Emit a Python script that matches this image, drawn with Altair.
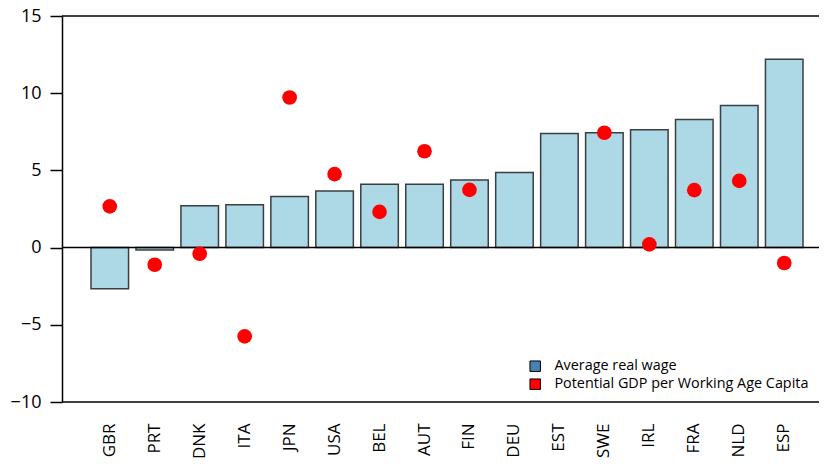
import altair as alt
import pandas as pd

countries = ["GBR", "PRT", "DNK", "ITA", "JPN", "USA", "BEL", "AUT",
             "FIN", "DEU", "EST", "SWE", "IRL", "FRA", "NLD", "ESP"]
wage = [-2.67, -0.15, 2.71, 2.78, 3.31, 3.67, 4.10, 4.10,
        4.38, 4.87, 7.39, 7.44, 7.64, 8.29, 9.21, 12.2]
gdp = [2.67, -1.11, -0.40, -5.75, 9.72, 4.76, 2.31, 6.24,
       3.74, None, None, 7.44, 0.21, 3.72, 4.32, -1.0]
series = ["Average real wage", "Potential GDP per Working Age Capita"]
series_colors = ["#4682B4", "#FF0000"]
y_ticks = [-10, -5, 0, 5, 10, 15]
frame_lines = [15, 0, -10]

W, H = 757, 386
FONT = "Open Sans"

df = pd.DataFrame({"country": countries, "wage": wage, "gdp": gdp})
df_lines = pd.DataFrame({"y": frame_lines})
df_leg = pd.DataFrame({"series": series})

xscale = alt.Scale(domain=countries, range=[29, 741], paddingInner=0.165, paddingOuter=0)
yscale = alt.Scale(domain=[-10, 15], nice=False, zero=False)

xax = alt.Axis(title=None, labelAngle=270, labelAlign="right", labelBaseline="middle",
               labelPadding=21, ticks=False, domain=False, labelFontSize=17,
               labelFont=FONT, labelColor="#000", grid=False)
yax = alt.Axis(title=None, values=y_ticks, tickSize=12, tickWidth=1.5, tickColor="black",
               domainColor="black", domainWidth=1.5, labelFontSize=18, labelFont=FONT,
               labelColor="#000", labelPadding=9, grid=False)

base = alt.Chart(df)

bars = base.mark_bar(fill="#ADD8E6", stroke="#3a3f42", strokeWidth=1.5).encode(
    x=alt.X("country:N", scale=xscale, axis=xax, sort=countries),
    y=alt.Y("wage:Q", scale=yscale, axis=yax),
    y2=alt.datum(0),
)

lines = alt.Chart(df_lines).mark_rule(color="black", strokeWidth=1.5).encode(
    y=alt.Y("y:Q", scale=yscale),
    x=alt.value(0),
    x2=alt.value(W),
)

dots = base.transform_filter("isValid(datum.gdp)").mark_circle(
    color="#FF0000", opacity=1, size=215
).encode(
    x=alt.X("country:N", scale=xscale, sort=countries),
    y=alt.Y("gdp:Q", scale=yscale),
)

legend = alt.Chart(df_leg).mark_square(opacity=0, size=1).encode(
    color=alt.Color(
        "series:N",
        scale=alt.Scale(domain=series, range=series_colors),
        legend=alt.Legend(
            title=None, orient="none", legendX=466, legendY=343,
            symbolType="square", symbolSize=110, symbolOpacity=1,
            symbolStrokeColor="black", symbolStrokeWidth=1,
            labelFont=FONT, labelFontSize=14.4, labelColor="#000",
            labelOffset=12, rowPadding=2, labelLimit=500,
        ),
    ),
    x=alt.value(0),
    y=alt.value(0),
)

chart = alt.layer(bars, lines, dots, legend).properties(
    width=W, height=H,
    autosize=alt.AutoSizeParams(type="none"),
    padding={"left": 54, "top": 8, "right": 0, "bottom": 58},
).configure_view(stroke=None)

chart.save("out.html", embed_options={"renderer": "svg", "actions": False})
